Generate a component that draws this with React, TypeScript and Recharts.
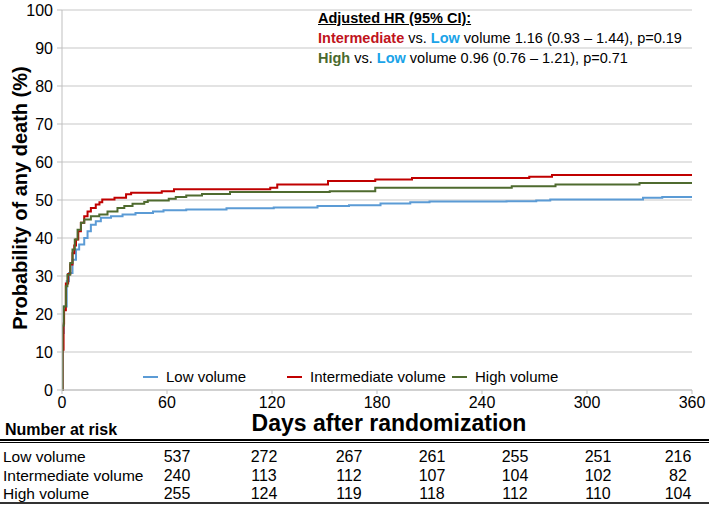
import React from "react";
import { CartesianGrid, Legend, Line, LineChart, XAxis, YAxis } from "recharts";

// Kaplan-Meier style cumulative probability of death (%)
const LOW_DAYS = [0, 0.3, 1, 2.7, 4, 6, 8, 9.8, 12.7, 14.6, 16.5, 19.3, 22.2, 28, 34.6, 42, 52, 58, 71, 94, 121, 146, 164, 182, 199, 210, 254, 271, 279, 332, 343, 360];
const LOW_PROB = [0, 15, 22, 28.6, 30.8, 34.3, 37, 38.3, 40, 41.8, 43.5, 44.4, 45.3, 45.7, 46.2, 46.6, 47.0, 47.3, 47.5, 47.8, 48.0, 48.4, 48.6, 49.1, 49.4, 49.6, 49.7, 49.9, 50.1, 50.6, 50.8, 50.8];

const INT_DAYS = [0, 0.3, 0.9, 1.2, 2.2, 3.5, 4.7, 6, 7, 8, 9.3, 10.8, 12.7, 14.6, 16.5, 19.3, 21.4, 23, 30, 36.6, 39.5, 57, 64, 119, 123, 152, 179, 200, 267, 280, 360];
const INT_PROB = [0, 10.6, 17.5, 21, 28, 30.5, 33, 36, 38, 39.6, 41.8, 44, 45.7, 47, 47.9, 48.8, 49.4, 50.1, 50.6, 51.5, 51.9, 52.3, 52.8, 53.2, 54.1, 55.0, 55.4, 55.8, 56.1, 56.6, 56.6];

const HIGH_DAYS = [0, 0.3, 1, 2.2, 3.1, 4.7, 6, 7.3, 8.9, 10.8, 12.7, 16.5, 21.3, 26, 31.7, 35.6, 40.3, 47, 49, 61, 65, 71, 80, 96, 153, 179, 257, 282, 330, 360];
const HIGH_PROB = [0, 17, 22, 27.3, 30.3, 33.4, 37, 39.6, 42.2, 44, 44.9, 45.7, 46.2, 47, 47.9, 48.4, 49, 49.5, 49.9, 50.3, 50.8, 51.2, 51.6, 52.1, 52.3, 53.2, 53.6, 54.1, 54.5, 54.5];

const X_TICKS = [0, 60, 120, 180, 240, 300, 360];
const Y_TICKS = [0, 10, 20, 30, 40, 50, 60, 70, 80, 90, 100];

const SERIES_NAMES = ["Low volume", "Intermediate volume", "High volume"];
const RISK_LOW = [537, 272, 267, 261, 255, 251, 216];
const RISK_INT = [240, 113, 112, 107, 104, 102, 82];
const RISK_HIGH = [255, 124, 119, 118, 112, 110, 104];

const COLORS = ["#5b9bd5", "#c00000", "#4f6b2f"];
const RISK_COL_X = [177, 264, 349, 432, 515, 598, 678];
const LEGEND_X = [143, 287, 452];

const toPoints = (days: number[], prob: number[]) => days.map((d, i) => ({ day: d, p: prob[i] }));

const lowData = toPoints(LOW_DAYS, LOW_PROB);
const intData = toPoints(INT_DAYS, INT_PROB);
const highData = toPoints(HIGH_DAYS, HIGH_PROB);

const FONT = "'Liberation Sans', Arial, sans-serif";
const NARROW = "'Liberation Sans Narrow', 'Liberation Sans', Arial, sans-serif";

function LegendBox() {
  return (
    <div style={{ position: "relative", height: 18, fontFamily: FONT, fontSize: 15 }}>
      {SERIES_NAMES.map((name, i) => (
        <div key={name} style={{ position: "absolute", left: LEGEND_X[i], top: 0, display: "flex", alignItems: "center", whiteSpace: "nowrap" }}>
          <span style={{ display: "inline-block", width: 15, height: 2, background: COLORS[i], marginRight: 8 }} />
          <span>{name}</span>
        </div>
      ))}
    </div>
  );
}

export default function App() {
  const rows = [RISK_LOW, RISK_INT, RISK_HIGH];
  return (
    <div style={{ position: "absolute", left: 0, top: 0, width: 709, height: 509, background: "#fff", fontFamily: FONT, color: "#000", overflow: "hidden" }}>
      <LineChart width={709} height={448} margin={{ top: 10, right: 17, bottom: 0, left: 0 }}>
        <CartesianGrid vertical={false} stroke="#c8c8c8" strokeWidth={1.2} />
        <XAxis
          type="number"
          dataKey="day"
          domain={[0, 360]}
          ticks={X_TICKS}
          allowDataOverflow
          stroke="#bfbfbf"
          tickSize={4}
          tickMargin={3}
          height={40}
          tick={{ fill: "#000", fontSize: 16, fontFamily: FONT }}
        />
        <YAxis
          type="number"
          domain={[0, 100]}
          ticks={Y_TICKS}
          width={62}
          stroke="#bfbfbf"
          tickSize={5}
          tickMargin={4}
          tick={{ fill: "#000", fontSize: 16, fontFamily: FONT }}
        />
        <Legend content={() => <LegendBox />} wrapperStyle={{ position: "absolute", left: 0, top: 368, width: 709, height: 18 }} />
        <Line data={lowData} dataKey="p" name={SERIES_NAMES[0]} type="stepAfter" stroke={COLORS[0]} strokeWidth={2} dot={false} isAnimationActive={false} />
        <Line data={intData} dataKey="p" name={SERIES_NAMES[1]} type="stepAfter" stroke={COLORS[1]} strokeWidth={2} dot={false} isAnimationActive={false} />
        <Line data={highData} dataKey="p" name={SERIES_NAMES[2]} type="stepAfter" stroke={COLORS[2]} strokeWidth={2} dot={false} isAnimationActive={false} />
      </LineChart>

      {/* y axis title */}
      <div style={{ position: "absolute", left: 20, top: 198, transform: "translate(-50%, -50%) rotate(-90deg)", whiteSpace: "nowrap", fontWeight: 700, fontSize: 20 }}>
        Probability of any death (%)
      </div>

      {/* hazard ratio annotation */}
      <div style={{ position: "absolute", left: 318, top: 8, fontSize: 14.5, lineHeight: "20px", whiteSpace: "nowrap" }}>
        <div style={{ fontWeight: 700, textDecoration: "underline" }}>Adjusted HR (95% CI):</div>
        <div>
          <b style={{ color: "#c0141c" }}>Intermediate</b> vs. <b style={{ color: "#1aa3e8" }}>Low</b> volume 1.16 (0.93 – 1.44), p=0.19
        </div>
        <div>
          <b style={{ color: "#4a6a2e" }}>High</b> vs. <b style={{ color: "#1aa3e8" }}>Low</b> volume 0.96 (0.76 – 1.21), p=0.71
        </div>
      </div>

      {/* x axis title */}
      <div style={{ position: "absolute", left: 389, top: 412, transform: "translateX(-50%)", whiteSpace: "nowrap", fontWeight: 700, fontSize: 23, lineHeight: "23px", fontFamily: NARROW }}>
        Days after randomization
      </div>

      {/* number at risk table */}
      <div style={{ position: "absolute", left: 5, top: 421, fontWeight: 700, fontSize: 16, lineHeight: "18px", fontFamily: NARROW }}>Number at risk</div>
      <div style={{ position: "absolute", left: 0, top: 439, width: 709, height: 2, background: "#000" }} />
      <div style={{ position: "absolute", left: 0, top: 442, width: 709, height: 1, background: "#000" }} />
      {rows.map((vals, r) => (
        <React.Fragment key={r}>
          <div style={{ position: "absolute", left: 3, top: 448 + r * 18.5, fontSize: 15.5, lineHeight: "18px", fontFamily: NARROW, whiteSpace: "nowrap" }}>{SERIES_NAMES[r]}</div>
          {vals.map((v, c) => (
            <div key={c} style={{ position: "absolute", left: RISK_COL_X[c], top: 448 + r * 18.5, transform: "translateX(-50%)", fontSize: 16, lineHeight: "18px", fontFamily: NARROW }}>
              {v}
            </div>
          ))}
        </React.Fragment>
      ))}
      <div style={{ position: "absolute", left: 0, top: 502, width: 709, height: 2, background: "#333" }} />
    </div>
  );
}
